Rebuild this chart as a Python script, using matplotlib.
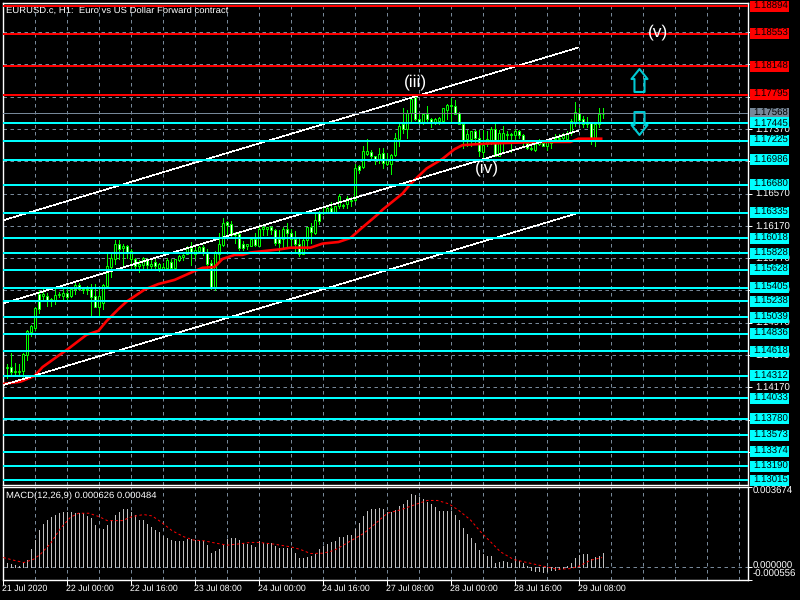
import numpy as np
import matplotlib
matplotlib.use("Agg")
import matplotlib.pyplot as plt
from matplotlib.patches import Rectangle
from matplotlib.path import Path
from matplotlib.transforms import blended_transform_factory

plt.rcParams['font.family'] = ['Liberation Sans', 'DejaVu Sans']
plt.rcParams['text.hinting'] = 'no_hinting'

# OHLC, in 1/10000 of a price unit
open_ = [11441,11442,11436,11436,11437,11457,11486,11491,11533,11530,11530,11525,11524,11531,11530,11534,11530,11539,11544,11538,11539,11539,11530,11517,11521,11543,11566,11576,11595,11590,11592,11576,11576,11567,11569,11576,11567,11572,11565,11564,11565,11572,11565,11575,11579,11582,11590,11582,11586,11591,11585,11571,11540,11582,11593,11622,11619,11606,11607,11595,11592,11592,11601,11592,11613,11613,11615,11612,11601,11601,11613,11608,11601,11595,11582,11600,11615,11608,11633,11633,11633,11639,11634,11641,11642,11644,11648,11649,11691,11690,11706,11709,11703,11700,11707,11694,11694,11705,11725,11743,11737,11757,11777,11750,11745,11755,11750,11745,11747,11747,11761,11765,11766,11757,11743,11724,11724,11734,11726,11709,11719,11722,11737,11704,11722,11729,11729,11730,11734,11730,11720,11712,11711,11719,11720,11716,11720,11725,11724,11726,11724,11732,11745,11757,11750,11743,11745,11726,11743,11755]
high = [11446,11459,11447,11446,11459,11488,11494,11517,11538,11540,11534,11528,11540,11535,11540,11541,11540,11546,11546,11541,11543,11545,11545,11539,11545,11582,11582,11600,11600,11595,11593,11588,11577,11575,11579,11577,11576,11576,11571,11571,11577,11576,11576,11581,11582,11592,11597,11592,11592,11593,11588,11575,11586,11608,11627,11623,11623,11610,11608,11598,11595,11601,11608,11615,11619,11616,11617,11613,11612,11615,11621,11613,11611,11601,11601,11615,11621,11634,11636,11639,11642,11646,11642,11657,11644,11654,11653,11694,11693,11716,11725,11711,11704,11714,11714,11707,11706,11732,11743,11763,11760,11777,11778,11755,11756,11765,11751,11751,11752,11763,11768,11776,11773,11758,11745,11736,11735,11736,11736,11736,11735,11740,11743,11736,11741,11735,11732,11737,11736,11731,11722,11722,11720,11724,11722,11725,11722,11731,11731,11732,11734,11750,11770,11763,11753,11752,11746,11745,11763,11763]
low = [11429,11433,11432,11432,11427,11451,11481,11488,11509,11524,11518,11518,11520,11529,11526,11526,11529,11533,11538,11534,11533,11505,11517,11504,11514,11543,11554,11570,11576,11569,11577,11565,11565,11560,11565,11565,11562,11562,11561,11564,11564,11564,11565,11574,11575,11582,11569,11577,11584,11581,11565,11539,11538,11574,11592,11602,11605,11596,11587,11587,11588,11592,11592,11592,11606,11606,11607,11593,11586,11590,11590,11590,11584,11580,11582,11588,11596,11607,11619,11632,11633,11633,11633,11639,11639,11639,11641,11648,11683,11689,11705,11701,11694,11695,11689,11693,11681,11704,11716,11732,11726,11745,11748,11743,11743,11745,11740,11743,11743,11745,11750,11747,11755,11743,11714,11716,11716,11719,11704,11700,11716,11719,11703,11703,11710,11722,11709,11720,11726,11716,11712,11711,11710,11717,11716,11711,11714,11724,11722,11722,11722,11729,11741,11743,11739,11740,11719,11716,11740,11751]
close = [11442,11436,11437,11437,11458,11487,11493,11515,11514,11533,11524,11526,11531,11533,11534,11529,11539,11544,11539,11539,11538,11529,11517,11530,11544,11567,11577,11595,11588,11592,11585,11586,11567,11570,11577,11569,11570,11567,11570,11566,11575,11565,11576,11580,11581,11590,11584,11587,11591,11585,11570,11540,11584,11595,11621,11618,11606,11607,11590,11590,11595,11601,11593,11613,11615,11615,11612,11596,11596,11613,11608,11601,11595,11582,11600,11615,11610,11624,11623,11634,11639,11634,11641,11654,11643,11652,11649,11689,11686,11710,11710,11703,11699,11706,11695,11700,11705,11726,11741,11737,11757,11774,11750,11745,11755,11750,11745,11750,11751,11763,11767,11767,11756,11743,11722,11731,11734,11726,11710,11717,11724,11737,11704,11732,11732,11731,11731,11734,11729,11722,11714,11714,11719,11721,11716,11722,11721,11726,11726,11729,11732,11747,11758,11748,11743,11745,11726,11743,11755,11756]

# moving average
ma_bar = [0,4.5,7,8,10,14.5,16,21,24,26,29,31,35.5,39,43,48,50,53,55,58,60,62,69.5,72,77,80,84,87,89.5,94,95,100,102,106,110,113,115,121,128,134,142,144,150]
ma_price = [1.1421,1.1424,1.1429,1.1431,1.1442,1.1458,1.1463,1.1482,1.1487,1.1499,1.1514,1.1523,1.1538,1.1545,1.1550,1.1561,1.1565,1.1566,1.1576,1.1581,1.1581,1.1584,1.1588,1.1590,1.1590,1.1595,1.1597,1.1602,1.1613,1.1632,1.1637,1.1657,1.1669,1.1688,1.1700,1.1712,1.1717,1.1719,1.1720,1.1721,1.1721,1.1725,1.1725]

# channel (trend lines): start bar, end bar, start price, end price
channel_bars = [0.25, 144]
channel_upper = [1.1624, 1.1838]
channel_middle = [1.1521, 1.1735]
channel_lower = [1.1420, 1.1633]

red_levels = [1.18894, 1.18553, 1.18148, 1.17795]
cyan_levels = [1.17445,1.17225,1.16986,1.16680,1.16335,1.16018,1.15828,1.15628,1.15405,1.15238,1.15039,1.14836,1.14618,1.14312,1.14033,1.13780,1.13573,1.13374,1.13190,1.13015]
last_price = 1.17568
price_ticks = [1.18570,1.18170,1.17770,1.17370,1.16970,1.16570,1.16170,1.15770,1.15370,1.14970,1.14570,1.14170,1.13770,1.13370]
hidden_tick_labels = [1.18570,1.18170,1.17770,1.16970,1.13770,1.13370]

# MACD histogram, in millionths
macd_hist = [214,137,92,61,199,351,825,1237,1695,1955,2153,2275,2382,2489,2504,2504,2504,2458,2458,2458,2352,2229,1924,1741,1741,1924,2153,2382,2504,2642,2657,2504,2382,2153,2153,1970,1848,1695,1588,1420,1313,1237,1191,1191,1191,1267,1267,1237,1191,1191,1008,657,733,809,1008,1267,1344,1344,1237,1084,1038,1008,931,1191,1084,1084,1084,977,886,886,886,886,657,428,428,473,504,626,825,977,1054,1160,1191,1390,1390,1466,1466,1726,2031,2336,2565,2657,2657,2703,2657,2504,2504,2611,2794,2886,3069,3344,3298,3191,3115,2962,2886,2764,2565,2565,2565,2565,2382,2153,1771,1512,1313,1084,779,596,504,504,214,260,275,244,214,397,275,199,46,-137,-168,-183,-214,-183,-137,-107,-76,-46,46,214,443,580,596,596,397,473,535,641]
signal_bar = [0.2,2.8,5.3,7.8,9.5,12,14.5,17,19,21.6,24.1,26.2,29.9,32.4,35.3,37.4,39.5,42.4,45.3,47.8,50.3,53.7,56.2,58.7,62,64.1,67.8,72,74.5,77,80.2,82.8,84.5,87.4,90.3,93.3,96.2,99.5,103.7,106.2,108.7,111.6,114.1,117,119.5,122,124.5,127.8,131.2,135.3,138.7,142,144.1,147,149.9]
signal_val = [443,321,214,366,596,1084,1771,2275,2458,2458,2306,2122,2122,2306,2397,2336,2077,1664,1390,1237,1206,1084,1008,1054,1130,1130,1054,931,809,626,641,763,931,1237,1542,2000,2458,2611,2886,3039,3039,2886,2581,2153,1619,1160,702,351,214,46,-92,-61,46,321,443]

date_labels = ['21 Jul 2020','22 Jul 00:00','22 Jul 16:00','23 Jul 08:00','24 Jul 00:00','24 Jul 16:00','27 Jul 08:00','28 Jul 00:00','28 Jul 16:00','29 Jul 08:00']
waves = [('(iii)', 103.2, 1.1795), ('(iv)', 121, 1.1689), ('(v)', 163.8, 1.1857)]
arrow_pos = [(159, 1.1798, 'up'), (159, 1.1745, 'down')]

W, H = 800, 600
fig = plt.figure(figsize=(8, 6), dpi=100, facecolor='black')

def rect(left, top, right, bottom):
    return [left / W, 1 - bottom / H, (right - left) / W, (bottom - top) / H]

L, R = 2.5, 747.5
ax = fig.add_axes(rect(L, 2.5, R, 484.5), facecolor='black')
ax2 = fig.add_axes(rect(L, 486.5, R, 579.5), facecolor='black')

bar_px = 4.0
xlim = ((L - 2.5) / bar_px, (R - 2.5) / bar_px)
scale = 8071.0
top_price = 1.18894 + (5.5 + 0.5 - 2.5) / scale
bot_price = 1.18894 - (484.5 - 6.0) / scale
ax.set_xlim(*xlim)
ax.set_ylim(bot_price, top_price)

GRID = '#778899'
CYAN = '#00FFFF'
RED = '#FF0000'
LIME = '#00FF00'
px = 0.72
dash = (0, (3.5, 3.5))

bars = np.arange(1, len(open_) + 1)
o, h, l, c = [np.array(a) / 1e4 for a in (open_, high, low, close)]

# grid, ticks
grid_bars = np.arange(8, 186, 8)
for a in (ax, ax2):
    a.set_axisbelow(True)
    a.set_xlim(*xlim)
    a.set_xticks(np.arange(0, 186, 16))
    a.set_xticks(grid_bars, minor=True)
    a.tick_params(axis='x', which='minor', length=0)
    a.grid(True, which='both', color=GRID, lw=px, linestyle=dash)
    for s in a.spines.values():
        s.set_color('white')
        s.set_linewidth(1.0)
ax.tick_params(axis='x', which='major', length=0, labelbottom=False)
ax.yaxis.tick_right()
ax.set_yticks(price_ticks)
ax.set_yticklabels(['' if p in hidden_tick_labels else '%.5f' % p for p in price_ticks], color='white', fontsize=6.9)
ax.tick_params(axis='y', colors='white', length=3, width=px, pad=2.5)

# candles
ax.vlines(bars, l, h, color=LIME, lw=px, zorder=2, antialiased=False)
down = c < o
ax.bar(bars, np.maximum(np.abs(c - o), 1e-5), bottom=np.minimum(o, c), width=0.5,
       color=np.where(down, 'white', 'black'), edgecolor=LIME, linewidth=px, zorder=2.1)

# indicators
ax.plot(ma_bar, ma_price, color=RED, lw=1.9, zorder=3, solid_capstyle='butt')
for series in (channel_upper, channel_middle, channel_lower):
    ax.plot(channel_bars, series, color='white', lw=0.42, zorder=4, antialiased=False)

# levels
ax.axhline(last_price, color=GRID, lw=px, zorder=4.5)
for p in red_levels:
    ax.axhline(p, color=RED, lw=1.3, zorder=5, antialiased=False)
for p in cyan_levels:
    ax.axhline(p, color=CYAN, lw=1.3, zorder=5, antialiased=False)

# price badges
tr = blended_transform_factory(ax.transAxes, ax.transData)
bx0 = (750 - L) / (R - L)
bw = 39 / (R - L)
bh = 11 / scale
def badge(p, col, zo):
    ax.add_patch(Rectangle((bx0, p - bh / 2), bw, bh, transform=tr, facecolor=col,
                           edgecolor='none', clip_on=False, zorder=zo))
    ax.text((753 - L) / (R - L), p - 0.1 / scale, '%.5f' % p, transform=tr, color='black', fontsize=6.9,
            va='center', ha='left', clip_on=False, zorder=zo + 0.01)
badge(last_price, GRID, 6)
for i, p in enumerate(red_levels):
    badge(p, RED, 6.1)
for i, p in enumerate(cyan_levels):
    badge(p, CYAN, 6.2 + i * 0.02)

# title and annotations
ax.text(3.5 / (R - L), 1 - 7.6 / 482, 'EURUSD.c, H1:  Euro vs US Dollar Forward contract', transform=ax.transAxes,
        color='white', fontsize=6.8, va='center', ha='left', zorder=4.8)
for s, b, p in waves:
    ax.text(b, p, s, color='white', fontsize=12.5, ha='center', va='center', zorder=7, clip_on=False)

arrow_up = Path([(0, 1), (.7, .13), (.44, .13), (.44, -1), (-.44, -1), (-.44, .13), (-.7, .13), (0, 1)], closed=True)
arrow_dn = Path([(0, -1), (.7, -.13), (.44, -.13), (.44, 1), (-.44, 1), (-.44, -.13), (-.7, -.13), (0, -1)], closed=True)
for b, p, d in arrow_pos:
    ax.plot([b], [p], marker=arrow_up if d == 'up' else arrow_dn, ms=16.5, mfc='none',
            mec='#00C8D2', mew=1.5, zorder=7, ls='none')

# MACD panel
hist = np.array(macd_hist) / 1e6
sig = np.array(signal_val) / 1e6
ymax, ymin = 0.003674, -0.000556
ax2.set_ylim(ymin, ymax)
ax2.vlines(bars, 0, hist, color='#C0C0C0', lw=px, zorder=2, antialiased=False)
ax2.plot(signal_bar, sig, color=RED, lw=px, linestyle=(0, (2.5, 2.5)), zorder=3)
ax2.set_yticks([ymin, 0, ymax])
ax2.yaxis.tick_right()
ax2.tick_params(axis='y', colors='white', length=3, width=px, labelright=False)
ax2.set_xticks(np.arange(0, 160, 16))
ax2.set_xticklabels([])
ax2.tick_params(axis='x', which='major', colors='white', length=3.6, width=px, labelbottom=False)
ytr = ax2.get_yaxis_transform()
for val, txt, off in [(ymax, '0.003674', -5), (0, '0.000000', 1), (ymin, '-0.000556', 5.5)]:
    ax2.annotate(txt, (1, val), xycoords=ytr, xytext=(5, off), textcoords='offset pixels',
                 color='white', fontsize=6.9, va='center', ha='left', annotation_clip=False)
ax2.text(3.5 / (R - L), 1 - 9.2 / 93, 'MACD(12,26,9) 0.000626 0.000484', transform=ax2.transAxes,
         color='white', fontsize=6.8, va='center', ha='left', zorder=5)
xtr = ax2.get_xaxis_transform()
for k, txt in enumerate(date_labels):
    ax2.annotate(txt, (k * 16, 0), xycoords=xtr, xytext=(0, -9), textcoords='offset pixels',
                 color='white', fontsize=6.3, va='center', ha='left', annotation_clip=False)

fig.savefig('out.png', dpi=100, facecolor='black')
